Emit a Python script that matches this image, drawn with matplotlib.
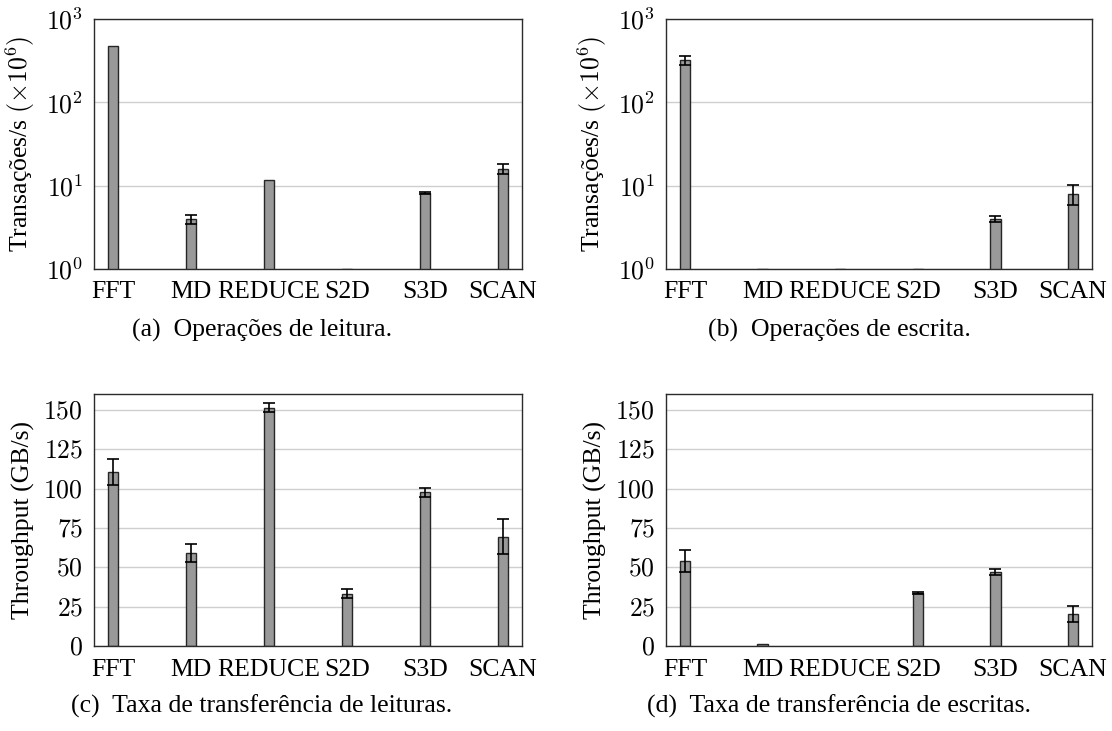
import matplotlib
matplotlib.use("Agg")
import matplotlib.pyplot as plt
import numpy as np

plt.rcParams['font.family'] = ['Liberation Serif', 'DejaVu Serif']
plt.rcParams['mathtext.fontset'] = 'cm'

categories = ["FFT", "MD", "REDUCE", "S2D", "S3D", "SCAN"]

# (a) read operations (x10^6 transactions/s)
read_ops = [480, 4.0, 11.7, 1.0, 8.1, 16.0]
read_ops_err = [0, 0.5, 0, 0, 0.2, 2.1]
# (b) write operations
write_ops = [320, 1.0, 1.0, 1.0, 4.0, 8.0]
write_ops_err = [40, 0, 0, 0, 0.35, 2.1]
# (c) read throughput (GB/s)
read_tp = [110.5, 59.0, 151.3, 33.3, 97.6, 69.4]
read_tp_err = [8.0, 5.7, 2.8, 2.7, 2.9, 11.2]
# (d) write throughput (GB/s)
write_tp = [54.0, 1.0, 0.0, 33.9, 47.1, 20.4]
write_tp_err = [7.1, 0, 0, 0.7, 2.1, 5.1]

captions = ["(a)  Operações de leitura.", "(b)  Operações de escrita.",
            "(c)  Taxa de transferência de leituras.", "(d)  Taxa de transferência de escritas."]
ylabel_ops = r"Transações/s $(\times 10^6)$"
ylabel_tp = "Throughput (GB/s)"

W, H = 1112, 731
fig = plt.figure(figsize=(W / 100, H / 100), dpi=100)

FS = 18.5
bar_color = "#999999"
edge_color = "#262626"
grid_color = "#cfcfcf"


def make_ax(left, right, top, bottom):
    return fig.add_axes([left / W, 1 - bottom / H, (right - left) / W, (bottom - top) / H])


def draw(ax, vals, errs, log, ylabel):
    x = np.arange(len(categories))
    vals = np.asarray(vals, dtype=float)
    errs = np.asarray(errs, dtype=float)
    ax.set_axisbelow(True)
    edges = [edge_color if v > 0 else "none" for v in vals]
    ax.bar(x, vals, width=0.135, color=bar_color, edgecolor=edges, linewidth=1.0, zorder=2)
    m = errs > 0
    ax.errorbar(x[m], vals[m], yerr=errs[m], fmt="none", ecolor="black", elinewidth=1.2,
                capsize=4, capthick=1.2, zorder=3)
    ax.set_xlim(-0.245, len(categories) - 1 + 0.245)
    ax.set_xticks(x)
    ax.set_xticklabels(categories, fontsize=FS)
    if log:
        ax.set_yscale("log")
        ax.set_ylim(1, 1000)
        ticks = [1, 10, 100, 1000]
        ax.set_yticks(ticks)
        ax.set_yticklabels([r"$10^{%d}$" % int(np.log10(t)) for t in ticks])
        ax.minorticks_off()
    else:
        ax.set_ylim(0, 160)
        ticks = list(range(0, 151, 25))
        ax.set_yticks(ticks)
        ax.set_yticklabels([r"$%d$" % t for t in ticks])
    ax.tick_params(axis="both", length=0, labelsize=FS)
    ax.tick_params(axis="x", pad=9)
    ax.tick_params(axis="y", pad=8)
    ax.yaxis.grid(True, color=grid_color, linewidth=1.0)
    for s in ax.spines.values():
        s.set_color("#2a2a2a")
        s.set_linewidth(1.0)
    ax.set_ylabel(ylabel, fontsize=FS, labelpad=6)


ax_a = make_ax(94, 522, 19, 269)
ax_b = make_ax(666, 1092, 19, 269)
ax_c = make_ax(94, 522, 394, 646)
ax_d = make_ax(666, 1092, 394, 646)

draw(ax_a, read_ops, read_ops_err, True, ylabel_ops)
draw(ax_b, write_ops, write_ops_err, True, ylabel_ops)
draw(ax_c, read_tp, read_tp_err, False, ylabel_tp)
draw(ax_d, write_tp, write_tp_err, False, ylabel_tp)

cap_pos = [(262, 330), (839, 330), (262, 706), (839, 706)]
for (cx, cy), txt in zip(cap_pos, captions):
    fig.text(cx / W, 1 - cy / H, txt, fontsize=FS, ha="center", va="center")

fig.savefig("out.png", dpi=100)
